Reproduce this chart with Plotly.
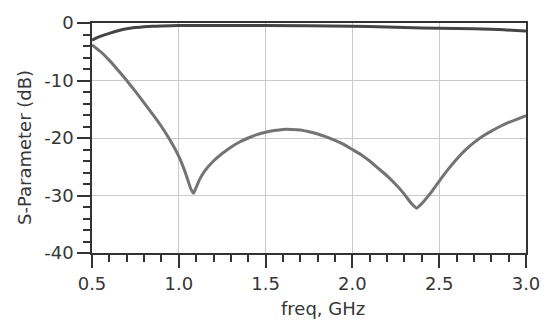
import plotly.graph_objects as go

# Frequency sweep (GHz) and measured S-parameters (dB)
freq_s11 = [0.50, 0.55, 0.60, 0.65, 0.70, 0.75, 0.80, 0.85, 0.90, 0.95,
            1.00, 1.04, 1.07, 1.085, 1.10, 1.12, 1.15, 1.20, 1.25, 1.30,
            1.35, 1.40, 1.45, 1.50, 1.55, 1.60, 1.65, 1.70, 1.75, 1.80,
            1.85, 1.90, 1.95, 2.00, 2.05, 2.10, 2.15, 2.20, 2.25, 2.30,
            2.34, 2.37, 2.40, 2.45, 2.50, 2.55, 2.60, 2.65, 2.70, 2.75,
            2.80, 2.85, 2.90, 2.95, 3.00]
s11_db = [-3.8, -5.0, -6.5, -8.2, -10.0, -11.9, -13.9, -15.9, -18.0, -20.4,
          -23.2, -26.2, -28.9, -29.6, -28.6, -27.2, -25.7, -24.0, -22.7, -21.6,
          -20.7, -20.0, -19.4, -19.0, -18.7, -18.5, -18.5, -18.6, -18.9, -19.3,
          -19.8, -20.4, -21.1, -22.0, -22.9, -24.0, -25.3, -26.6, -28.1, -29.8,
          -31.4, -32.2, -31.4, -29.6, -27.5, -25.5, -23.7, -22.1, -20.8, -19.7,
          -18.8, -18.0, -17.3, -16.7, -16.1]

freq_s21 = [0.50, 0.55, 0.60, 0.65, 0.70, 0.75, 0.80, 0.85, 0.90, 1.00,
            1.50, 2.00, 2.20, 2.40, 2.60, 2.80, 3.00]
s21_db = [-3.0, -2.3, -1.8, -1.35, -1.0, -0.8, -0.65, -0.55, -0.5, -0.45,
          -0.45, -0.55, -0.7, -0.85, -0.95, -1.1, -1.4]

x_ticks = [0.5, 1.0, 1.5, 2.0, 2.5, 3.0]
x_tick_text = ["0.5", "1.0", "1.5", "2.0", "2.5", "3.0"]
y_ticks = [0, -10, -20, -30, -40]
y_tick_text = ["0", "-10", "-20", "-30", "-40"]

x_title = "freq, GHz"
y_title = "S-Parameter (dB)"

font_family = "DejaVu Sans, Verdana, sans-serif"
text_color = "#363636"
label_font = dict(family=font_family, size=18, color=text_color)

fig = go.Figure()
fig.add_trace(go.Scatter(x=freq_s21, y=s21_db, mode="lines",
                         line=dict(color="#454545", width=3, shape="spline", smoothing=0.6),
                         name="S21"))
fig.add_trace(go.Scatter(x=freq_s11, y=s11_db, mode="lines",
                         line=dict(color="#737373", width=3, shape="spline", smoothing=0.4),
                         name="S11"))

axis_common = dict(
    showline=True, linecolor="#333333", linewidth=1.5, mirror=True,
    showgrid=True, gridcolor="#c9c9c9", gridwidth=1,
    ticks="outside", ticklen=13, tickwidth=1.5, tickcolor="#333333",
    tickfont=label_font,
    zeroline=False,
)

fig.update_xaxes(
    range=[0.5, 3.0], tickvals=x_ticks, ticktext=x_tick_text,
    ticklabelstandoff=1,
    minor=dict(dtick=0.1, ticks="outside", ticklen=7, tickwidth=1.5,
               tickcolor="#333333", showgrid=False),
    **axis_common,
)
fig.update_yaxes(
    range=[-40, 0], tickvals=y_ticks, ticktext=y_tick_text,
    minor=dict(dtick=2, ticks="outside", ticklen=7, tickwidth=1.5,
               tickcolor="#333333", showgrid=False),
    **axis_common,
)

# Axis titles placed as annotations
fig.add_annotation(text=x_title, xref="paper", yref="paper", x=0.532, y=0,
                   yshift=-55, xanchor="center", yanchor="middle",
                   showarrow=False, font=label_font)
fig.add_annotation(text=y_title, xref="paper", yref="paper", x=0, y=0.5,
                   xshift=-68, yshift=-10, xanchor="center", yanchor="middle",
                   textangle=-90, showarrow=False, font=label_font)

fig.update_layout(
    width=554, height=320,
    margin=dict(l=92, r=28, t=18, b=67),
    paper_bgcolor="white", plot_bgcolor="white",
    showlegend=False,
)

fig.write_html("out.html")
